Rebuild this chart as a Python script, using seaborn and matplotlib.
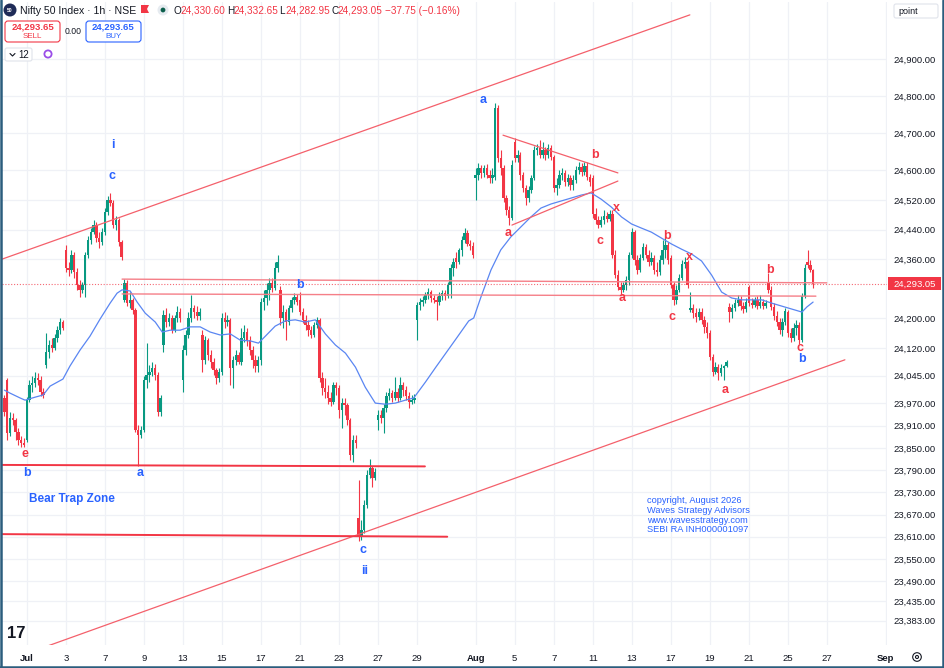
import numpy as np
import pandas as pd
import matplotlib
matplotlib.use("Agg")
import matplotlib.pyplot as plt
import seaborn as sns
from matplotlib.patches import Rectangle, FancyBboxPatch, Circle, Polygon
from matplotlib.lines import Line2D
from matplotlib.transforms import IdentityTransform

# ---------------- data ----------------
symbol = "Nifty 50 Index · 1h · NSE"
first_bar = "2026-06-29 15:15"
sessions = ["09:15", "10:15", "11:15", "12:15", "13:15", "14:15", "15:15"]

# opening price of the first hourly bar of every trading day (Jun 29 .. Aug 26)
day_opens = [23985, 24034, 23872, 24074, 24385, 24290, 24433, 24250, 23899, 24128,
             24034, 24155, 24055, 24082, 24088, 24277, 24250, 24196, 24012, 23661,
             23926, 24002, 24196, 24250, 24363, 24579, 24582, 24676, 24579, 24636,
             24560, 24579, 24482, 24371, 24352, 24363, 24223, 24161, 24231, 24285,
             24298, 24217, 24352]

closes = [
    23948,
    23891, 23931, 23926, 23894, 23872, 23864, 23858,
    23980, 24020, 24025, 24039, 24034, 24002, 23993,
    24110, 24128, 24120, 24147, 24169, 24191, 24174,
    24336, 24331, 24371, 24325, 24290, 24277, 24290,
    24371, 24412, 24433, 24452, 24417, 24406, 24433,
    24487, 24520, 24512, 24452, 24466, 24406, 24366,
    24296, 24242, 24250, 24223, 23899, 23885, 23899,
    24034, 24047, 24055, 24066, 24047, 23948, 23985,
    24209, 24191, 24201, 24169, 24201, 24217, 24201,
    24115, 24155, 24201, 24228, 24217, 24207, 24217,
    24088, 24142, 24101, 24082, 24061, 24039, 24055,
    24201, 24191, 24196, 24066, 24088, 24101, 24082,
    24147, 24163, 24142, 24115, 24088, 24071, 24088,
    24244, 24255, 24277, 24296, 24282, 24336, 24352,
    24201, 24217, 24191, 24228, 24250, 24258, 24244,
    24217, 24196, 24182, 24169, 24155, 24182, 24196,
    24039, 24012, 24002, 23985, 23974, 24020, 24012,
    23953, 23972, 23966, 23926, 23831, 23872, 23864,
    23610, 23629, 23696, 23777, 23796, 23769, 23785,
    23939, 23931, 23958, 23990, 23998, 23985, 24002,
    23985, 24020, 24007, 23990, 23974, 23980, 23985,
    24236, 24244, 24250, 24263, 24271, 24255, 24250,
    24244, 24261, 24269, 24261, 24290, 24336, 24352,
    24352, 24385, 24412, 24431, 24401, 24396, 24371,
    24587, 24606, 24593, 24606, 24587, 24579, 24587,
    24768, 24633, 24606, 24525, 24493, 24471, 24614,
    24633, 24641, 24587, 24552, 24525, 24547, 24579,
    24655, 24660, 24641, 24655, 24641, 24660, 24636,
    24552, 24560, 24587, 24593, 24568, 24579, 24560,
    24574, 24601, 24609, 24595, 24612, 24582, 24568,
    24482, 24466, 24452, 24466, 24477, 24469, 24482,
    24371, 24317, 24285, 24277, 24290, 24304, 24371,
    24433, 24358, 24331, 24363, 24393, 24371, 24352,
    24363, 24331, 24325, 24358, 24385, 24398, 24358,
    24290, 24250, 24277, 24309, 24347, 24352, 24290,
    24228, 24215, 24204, 24217, 24196, 24177, 24161,
    24096, 24055, 24069, 24053, 24066, 24071, 24082,
    24217, 24228, 24242, 24250, 24234, 24225, 24244,
    24242, 24236, 24250, 24234, 24244, 24234, 24242,
    24277, 24231, 24207, 24191, 24169, 24191, 24220,
    24161, 24147, 24174, 24182, 24142, 24261, 24336,
    24344, 24330.60, 24293.05,
]

highs = [
    23993,
    24039, 23948, 23945, 23931, 23904, 23882, 23877,
    23988, 24034, 24044, 24055, 24053, 24044, 24012,
    24161, 24142, 24147, 24158, 24180, 24201, 24196,
    24398, 24352, 24385, 24379, 24336, 24304, 24298,
    24379, 24422, 24444, 24466, 24460, 24433, 24444,
    24498, 24531, 24539, 24520, 24477, 24471, 24412,
    24306, 24304, 24271, 24255, 24228, 23912, 23909,
    24044, 24134, 24074, 24082, 24077, 24055, 23993,
    24223, 24228, 24215, 24209, 24209, 24233, 24228,
    24128, 24169, 24217, 24263, 24236, 24233, 24228,
    24169, 24153, 24147, 24115, 24093, 24066, 24066,
    24215, 24217, 24209, 24201, 24098, 24115, 24110,
    24174, 24182, 24174, 24153, 24126, 24101, 24098,
    24255, 24277, 24296, 24309, 24309, 24352, 24371,
    24288, 24236, 24225, 24236, 24258, 24269, 24266,
    24271, 24228, 24209, 24196, 24180, 24191, 24204,
    24201, 24055, 24039, 24020, 24002, 24028, 24028,
    24020, 23985, 23985, 23972, 23931, 23885, 23885,
    23764, 23656, 23710, 23791, 23820, 23801, 23796,
    23953, 23953, 23969, 24002, 24012, 24007, 24042,
    24012, 24042, 24028, 24017, 24002, 23993, 23996,
    24244, 24255, 24261, 24271, 24282, 24277, 24263,
    24261, 24271, 24277, 24277, 24298, 24347, 24363,
    24379, 24390, 24422, 24444, 24439, 24412, 24406,
    24606, 24620, 24614, 24614, 24617, 24601, 24606,
    24782, 24776, 24655, 24614, 24533, 24504, 24628,
    24687, 24655, 24649, 24595, 24560, 24558, 24587,
    24666, 24671, 24682, 24676, 24663, 24671, 24668,
    24641, 24579, 24601, 24606, 24601, 24590, 24587,
    24587, 24612, 24622, 24620, 24622, 24622, 24590,
    24587, 24498, 24477, 24477, 24493, 24487, 24493,
    24493, 24385, 24331, 24298, 24298, 24314, 24379,
    24444, 24439, 24371, 24374, 24404, 24401, 24385,
    24379, 24371, 24352, 24371, 24412, 24417, 24406,
    24371, 24298, 24290, 24320, 24358, 24366, 24358,
    24271, 24239, 24228, 24228, 24228, 24207, 24191,
    24169, 24104, 24082, 24077, 24077, 24074, 24088,
    24242, 24239, 24253, 24263, 24261, 24244, 24255,
    24290, 24255, 24258, 24261, 24263, 24253, 24250,
    24323, 24288, 24242, 24220, 24201, 24201, 24228,
    24223, 24174, 24188, 24196, 24191, 24269, 24347,
    24385, 24358, 24332.65,
]

lows = [
    23936,
    23872, 23882, 23912, 23872, 23858, 23853, 23853,
    23866, 23974, 24002, 24015, 24020, 23990, 23985,
    24066, 24093, 24110, 24115, 24137, 24158, 24169,
    24325, 24314, 24323, 24309, 24277, 24258, 24269,
    24258, 24363, 24401, 24428, 24406, 24390, 24398,
    24425, 24479, 24504, 24444, 24439, 24396, 24358,
    24244, 24234, 24228, 24212, 23894, 23801, 23877,
    23894, 24012, 24028, 24044, 24034, 23937, 23937,
    24110, 24177, 24180, 24161, 24163, 24191, 24191,
    24002, 24101, 24147, 24191, 24201, 24196, 24196,
    24055, 24077, 24088, 24066, 24047, 24023, 24028,
    24047, 24174, 24180, 24020, 24012, 24074, 24077,
    24074, 24137, 24126, 24101, 24066, 24055, 24055,
    24074, 24223, 24236, 24250, 24271, 24277, 24325,
    24182, 24174, 24142, 24182, 24217, 24239, 24236,
    24209, 24188, 24169, 24153, 24147, 24150, 24174,
    24028, 23993, 23985, 23969, 23964, 23969, 23993,
    23931, 23904, 23939, 23912, 23818, 23812, 23850,
    23599, 23602, 23621, 23688, 23769, 23745, 23764,
    23899, 23918, 23891, 23948, 23980, 23974, 23980,
    23974, 23980, 23990, 23980, 23958, 23969, 23972,
    24142, 24223, 24234, 24242, 24253, 24244, 24242,
    24196, 24236, 24250, 24250, 24255, 24255, 24314,
    24336, 24347, 24368, 24404, 24396, 24385, 24363,
    24520, 24574, 24579, 24582, 24579, 24566, 24566,
    24574, 24622, 24587, 24514, 24479, 24452, 24466,
    24622, 24622, 24574, 24541, 24506, 24514, 24539,
    24574, 24641, 24633, 24633, 24628, 24633, 24628,
    24541, 24533, 24552, 24574, 24558, 24558, 24547,
    24547, 24566, 24590, 24585, 24587, 24574, 24558,
    24471, 24455, 24444, 24447, 24455, 24460, 24463,
    24363, 24309, 24277, 24266, 24271, 24277, 24290,
    24363, 24344, 24320, 24325, 24358, 24363, 24341,
    24344, 24320, 24314, 24317, 24347, 24363, 24347,
    24282, 24236, 24239, 24271, 24304, 24336, 24282,
    24217, 24201, 24191, 24196, 24185, 24161, 24147,
    24088, 24044, 24050, 24034, 24044, 24034, 24069,
    24191, 24201, 24220, 24234, 24223, 24215, 24217,
    24234, 24228, 24231, 24225, 24228, 24225, 24228,
    24269, 24223, 24196, 24180, 24158, 24153, 24182,
    24150, 24137, 24139, 24155, 24131, 24137, 24255,
    24336, 24325, 24282.95,
]

# blue moving average, sampled along the bar axis
ma_bar = [0, 2.0, 5.6, 7.4, 11.0, 13.9, 16.4, 21.0, 23.5, 27.1, 30.7, 34.3, 37.9, 40.4,
          42.2, 45.1, 47.6, 50.5, 54.1, 56.6, 59.4, 63.0, 66.6, 70.2, 73.8, 77.4, 81.0,
          84.6, 88.2, 91.1, 93.6, 97.1, 100.7, 104.3, 107.9, 111.5, 115.1, 118.7, 122.3,
          125.9, 129.4, 133.0, 136.6, 140.2, 143.8, 146.8, 151.0, 154.7, 158.3, 161.9,
          166.5, 168.3, 170.9, 174.5, 178.0, 181.6, 185.2, 188.8, 192.4, 196.0, 199.6,
          203.2, 206.8, 210.4, 214.0, 217.6, 221.3, 224.9, 228.4, 232.0, 235.6, 239.2,
          242.8, 246.4, 250.0, 253.6, 257.2, 260.8, 264.4, 268.0, 271.6, 275.2, 278.8,
          282.4, 286.0, 287.8, 290.0]
ma_value = [24006, 23998, 23985, 23979, 23987, 23993, 24017, 24036, 24071, 24114, 24152,
            24198, 24241, 24268, 24277, 24274, 24244, 24214, 24190, 24163, 24168, 24168,
            24177, 24177, 24163, 24155, 24158, 24141, 24139, 24133, 24152, 24179, 24193,
            24196, 24190, 24196, 24158, 24128, 24106, 24068, 24014, 23971, 23968, 23971,
            23979, 23985, 24028, 24068, 24106, 24144, 24193, 24201, 24258, 24331, 24385,
            24420, 24447, 24474, 24498, 24509, 24517, 24525, 24533, 24539, 24522, 24501,
            24474, 24455, 24444, 24433, 24417, 24401, 24387, 24374, 24355, 24317, 24271,
            24255, 24250, 24250, 24250, 24241, 24233, 24225, 24217, 24231, 24244]

y_ticks = [24900, 24800, 24700, 24600, 24520, 24440, 24360, 24200, 24120, 24045,
           23970, 23910, 23850, 23790, 23730, 23670, 23610, 23550, 23490, 23435, 23383]
tick_dates = ["2026-07-01", "2026-07-03", "2026-07-07", "2026-07-09", "2026-07-13",
              "2026-07-15", "2026-07-17", "2026-07-21", "2026-07-23", "2026-07-27",
              "2026-07-29", "2026-08-03", "2026-08-05", "2026-08-07", "2026-08-11",
              "2026-08-13", "2026-08-17", "2026-08-19", "2026-08-21", "2026-08-25",
              "2026-08-27", "2026-09-01"]
tick_labels = ["Jul", "3", "7", "9", "13", "15", "17", "21", "23", "27", "29",
               "Aug", "5", "7", "11", "13", "17", "19", "21", "25", "27", "Sep"]

# drawn trend lines: ([bar0, bar1], [price0, price1])
upper_channel = ([-1.6, 245.8], [24358, 25020])
lower_channel = ([15.6, 301.4], [23315, 24088])
trap_top = ([-1.6, 150.8], [23804, 23800])
trap_bottom = ([-1.6, 158.8], [23617, 23610])
resist_top = ([42.2, 294.9], [24306, 24296])
resist_low = ([42.2, 291.0], [24266, 24260])
tri_top = ([178.8, 220.0], [24695, 24593])
tri_bottom = ([182.0, 220.0], [24452, 24571])

blue_labels = ["i", "c", "a", "b", "b", "a", "c", "ii", "b"]
blue_bar = [38.9, 38.6, 171.6, 106.0, 8.1, 48.6, 128.6, 129.3, 286.0]
blue_price = [24668, 24585, 24790, 24290, 23782, 23782, 23574, 23517, 24090]
red_labels = ["e", "a", "b", "x", "c", "a", "b", "x", "c", "a", "b", "c"]
red_bar = [7.4, 180.6, 211.8, 219.3, 213.5, 221.4, 237.6, 245.5, 239.4, 258.3, 274.5, 285.3]
red_price = [23834, 24431, 24641, 24498, 24409, 24255, 24423, 24366, 24204, 24006, 24331, 24120]

ohlc_header = ["24,330.60", "24,332.65", "24,282.95", "24,293.05"]
change_text = "\u221237.75 (\u22120.16%)"
quote_price = "24,293.65"
copyright_lines = ["copyright, August 2026", "Waves Strategy Advisors",
                   "www.wavesstrategy.com", "SEBI RA INH000001097"]
copyright_price = [23708, 23682, 23655, 23629]

# ---------------- build bar table ----------------
calendar = pd.bdate_range("2026-06-29", "2026-09-04")
stamps = [pd.Timestamp(f"{d.date()} {s}") for d in calendar for s in sessions]
start = stamps.index(pd.Timestamp(first_bar))
n = len(closes)
stamps = stamps[start:start + n]
day_pos = {d.normalize(): 7 * k - 6 for k, d in enumerate(calendar)}

opens = []
day_k = -1
prev_day = None
for i, t in enumerate(stamps):
    if t.normalize() != prev_day:
        day_k += 1
        opens.append(day_opens[day_k])
        prev_day = t.normalize()
    else:
        opens.append(closes[i - 1])

df = pd.DataFrame({"time": stamps, "open": opens, "high": highs,
                   "low": lows, "close": closes})
df["bar"] = np.arange(n)
up = df["close"] >= df["open"]
GREEN, RED, BLUE = "#089981", "#f23645", "#2962ff"
colors = np.where(up, GREEN, RED)

# ---------------- figure ----------------
sns.set_theme(style="white")
plt.rcParams["font.family"] = ["Liberation Sans", "DejaVu Sans"]

W, H = 944, 668
fig = plt.figure(figsize=(W / 100, H / 100), dpi=100, facecolor="white")
ax = fig.add_axes([2 / W, 23 / H, 885 / W, 643 / H])
ax.set_facecolor("white")
ax.set_xlim(-0.86, 316.5)
ax.set_ylim(23317.4, 25054.8)

# grid / ticks
ax.set_yticks(y_ticks)
ax.set_yticklabels([f"{v:,.2f}" for v in y_ticks])
xt = [day_pos[pd.Timestamp(d)] for d in tick_dates]
ax.set_xticks(xt)
ax.set_xticklabels(tick_labels)
ax.grid(True, color="#eff1f6", linewidth=0.9)
ax.set_axisbelow(True)
for s in ax.spines.values():
    s.set_visible(False)
ax.yaxis.tick_right()
ax.tick_params(axis="y", length=0, pad=4.4, labelsize=6.8, labelcolor="#131722")
ax.tick_params(axis="x", length=0, pad=6.2, labelsize=6.8, labelcolor="#131722")
for lab in ax.get_xticklabels():
    if lab.get_text() in ("Jul", "Aug", "Sep"):
        lab.set_fontweight("bold")

# candles
body_low = np.minimum(df["open"], df["close"])
body_h = np.maximum(np.abs(df["close"] - df["open"]), 1.8)
ax.vlines(df["bar"], df["low"], df["high"], colors=colors, linewidth=0.8, zorder=2.6)
ax.bar(df["bar"], body_h, bottom=body_low, width=0.86, color=colors, linewidth=0, zorder=2.7)

# moving average
sns.lineplot(x=ma_bar, y=ma_value, ax=ax, color="#5a86f2", linewidth=0.9,
             estimator=None, sort=False, zorder=2.8)

# trend lines
ax.plot(*upper_channel, color="#f4606b", linewidth=0.9, zorder=3)
ax.plot(*lower_channel, color="#f4606b", linewidth=0.9, zorder=3)
ax.plot(*trap_top, color=RED, linewidth=1.4, zorder=3)
ax.plot(*trap_bottom, color=RED, linewidth=1.4, zorder=3)
ax.plot(*resist_top, color="#f57f88", linewidth=1.0, zorder=3)
ax.plot(*resist_low, color="#f57f88", linewidth=1.0, zorder=3)
ax.plot(*tri_top, color="#f4606b", linewidth=0.9, zorder=3)
ax.plot(*tri_bottom, color="#f4606b", linewidth=0.9, zorder=3)

# current price line
last = closes[-1]
ax.axhline(last, color=RED, linewidth=0.8, linestyle=(0, (1, 1.6)), alpha=0.75, zorder=2.9)

# wave labels
for t, xb, yp in zip(blue_labels, blue_bar, blue_price):
    ax.text(xb, yp, t, color=BLUE, fontsize=9, fontweight="bold", ha="center",
            va="center", zorder=5)
for t, xb, yp in zip(red_labels, red_bar, red_price):
    ax.text(xb, yp, t, color=RED, fontsize=9, fontweight="bold", ha="center",
            va="center", zorder=5)
ax.text(8.8, 23712, "Bear Trap Zone", color=BLUE, fontsize=8.5, fontweight="bold",
        ha="left", va="center", zorder=5)
for line, yp in zip(copyright_lines, copyright_price):
    ax.text(230.3, yp, line, color=BLUE, fontsize=6.7, ha="left", va="center", zorder=5)

# ---------------- overlay widgets (pixel coords, y down) ----------------
ID = IdentityTransform()


def fx(x):
    return x / W


def fy(y):
    return 1 - y / H


def txt(x, y, s, **kw):
    kw.setdefault("va", "center")
    kw.setdefault("ha", "left")
    kw.setdefault("color", "#131722")
    fig.text(fx(x), fy(y), s, **kw)


# price label on the scale
fig.canvas.draw()
ypix = ax.transData.transform((0, last))[1]
fig.add_artist(Rectangle((888, ypix - 6.5), 53, 13, transform=ID, facecolor=RED,
                         edgecolor="none", zorder=10))
fig.text(893 / W, ypix / H, f"{last:,.2f}", color="white", fontsize=6.8,
         ha="left", va="center", zorder=11)

# header line
fig.add_artist(Circle((10, H - 10), 6.5, transform=ID, facecolor="#1f2b57",
                      edgecolor="none", zorder=10))
txt(10, 10.3, "50", color="white", fontsize=3.6, ha="center", fontweight="bold", zorder=11)
txt(20, 10.5, symbol, fontsize=7.6, zorder=11)
fig.add_artist(Polygon([(141, H - 5), (149, H - 5), (147, H - 9), (149, H - 13),
                        (141, H - 13)], closed=True, transform=ID, facecolor=RED,
                       edgecolor="none", zorder=10))
fig.add_artist(Circle((163, H - 10), 5.5, transform=ID, facecolor="#e6ebf0",
                      edgecolor="none", zorder=10))
fig.add_artist(Circle((163, H - 10), 2.4, transform=ID, facecolor="#0b5e4b",
                      edgecolor="none", zorder=11))
for key, val, x0 in zip("OHLC", ohlc_header, [174, 227, 279, 331]):
    txt(x0, 10.5, key, fontsize=7.2, zorder=11)
    txt(x0 + 6.3, 10.5, val, fontsize=7.2, color=RED, zorder=11)
txt(385, 10.5, change_text, fontsize=7.2, color=RED, zorder=11)

# sell / buy boxes
for x0, col, word in [(5, RED, "SELL"), (86, BLUE, "BUY")]:
    fig.add_artist(FancyBboxPatch((x0, H - 42), 55, 21, transform=ID,
                                  boxstyle="round,pad=0,rounding_size=3",
                                  facecolor="white", edgecolor=col, linewidth=0.8,
                                  zorder=10))
    txt(x0 + 27.5, 27, quote_price, color=col, fontsize=6.8, ha="center",
        fontweight="bold", zorder=11)
    txt(x0 + 27.5, 36.5, word, color=col, fontsize=5.8, ha="center", zorder=11)
txt(73, 31.5, "0.00", fontsize=6.2, ha="center", zorder=11)

# interval box
fig.add_artist(FancyBboxPatch((5, H - 61), 27, 13, transform=ID,
                              boxstyle="round,pad=0,rounding_size=2",
                              facecolor="white", edgecolor="#e0e3eb", linewidth=0.8,
                              zorder=10))
fig.add_artist(Line2D([10, 12.5, 15], [H - 53.5, H - 56, H - 53.5], transform=ID,
                      color="#131722", linewidth=0.8, zorder=11))
txt(18.5, 54.8, "12", fontsize=7, zorder=11)
fig.add_artist(Circle((48, H - 54), 3.6, transform=ID, fill=False,
                      edgecolor="#9a4de8", linewidth=1.3, zorder=10))

# top-right "point" box and bottom-right settings icon
fig.add_artist(FancyBboxPatch((894, H - 18), 44, 14, transform=ID,
                              boxstyle="round,pad=0,rounding_size=2",
                              facecolor="white", edgecolor="#e0e3eb", linewidth=0.8,
                              zorder=10))
txt(898, 11, "point", fontsize=6.5, zorder=11)
fig.add_artist(Circle((917, H - 657), 4.3, transform=ID, fill=False,
                      edgecolor="#131722", linewidth=0.8, zorder=10))
fig.add_artist(Circle((917, H - 657), 1.5, transform=ID, fill=False,
                      edgecolor="#131722", linewidth=0.8, zorder=10))

# TradingView mark
txt(7, 634, "17", fontsize=12, fontweight="black", zorder=11)

# screenshot frame
frame = "#2b5d7d"
fig.add_artist(Line2D([1, 1], [0, H], transform=ID, color=frame, linewidth=1.8, zorder=20))
fig.add_artist(Line2D([W - 1, W - 1], [0, H], transform=ID, color=frame, linewidth=1.8, zorder=20))
fig.add_artist(Line2D([0, W], [1.2, 1.2], transform=ID, color=frame, linewidth=1.8, zorder=20))

fig.savefig("out.png", dpi=100, facecolor="white")
